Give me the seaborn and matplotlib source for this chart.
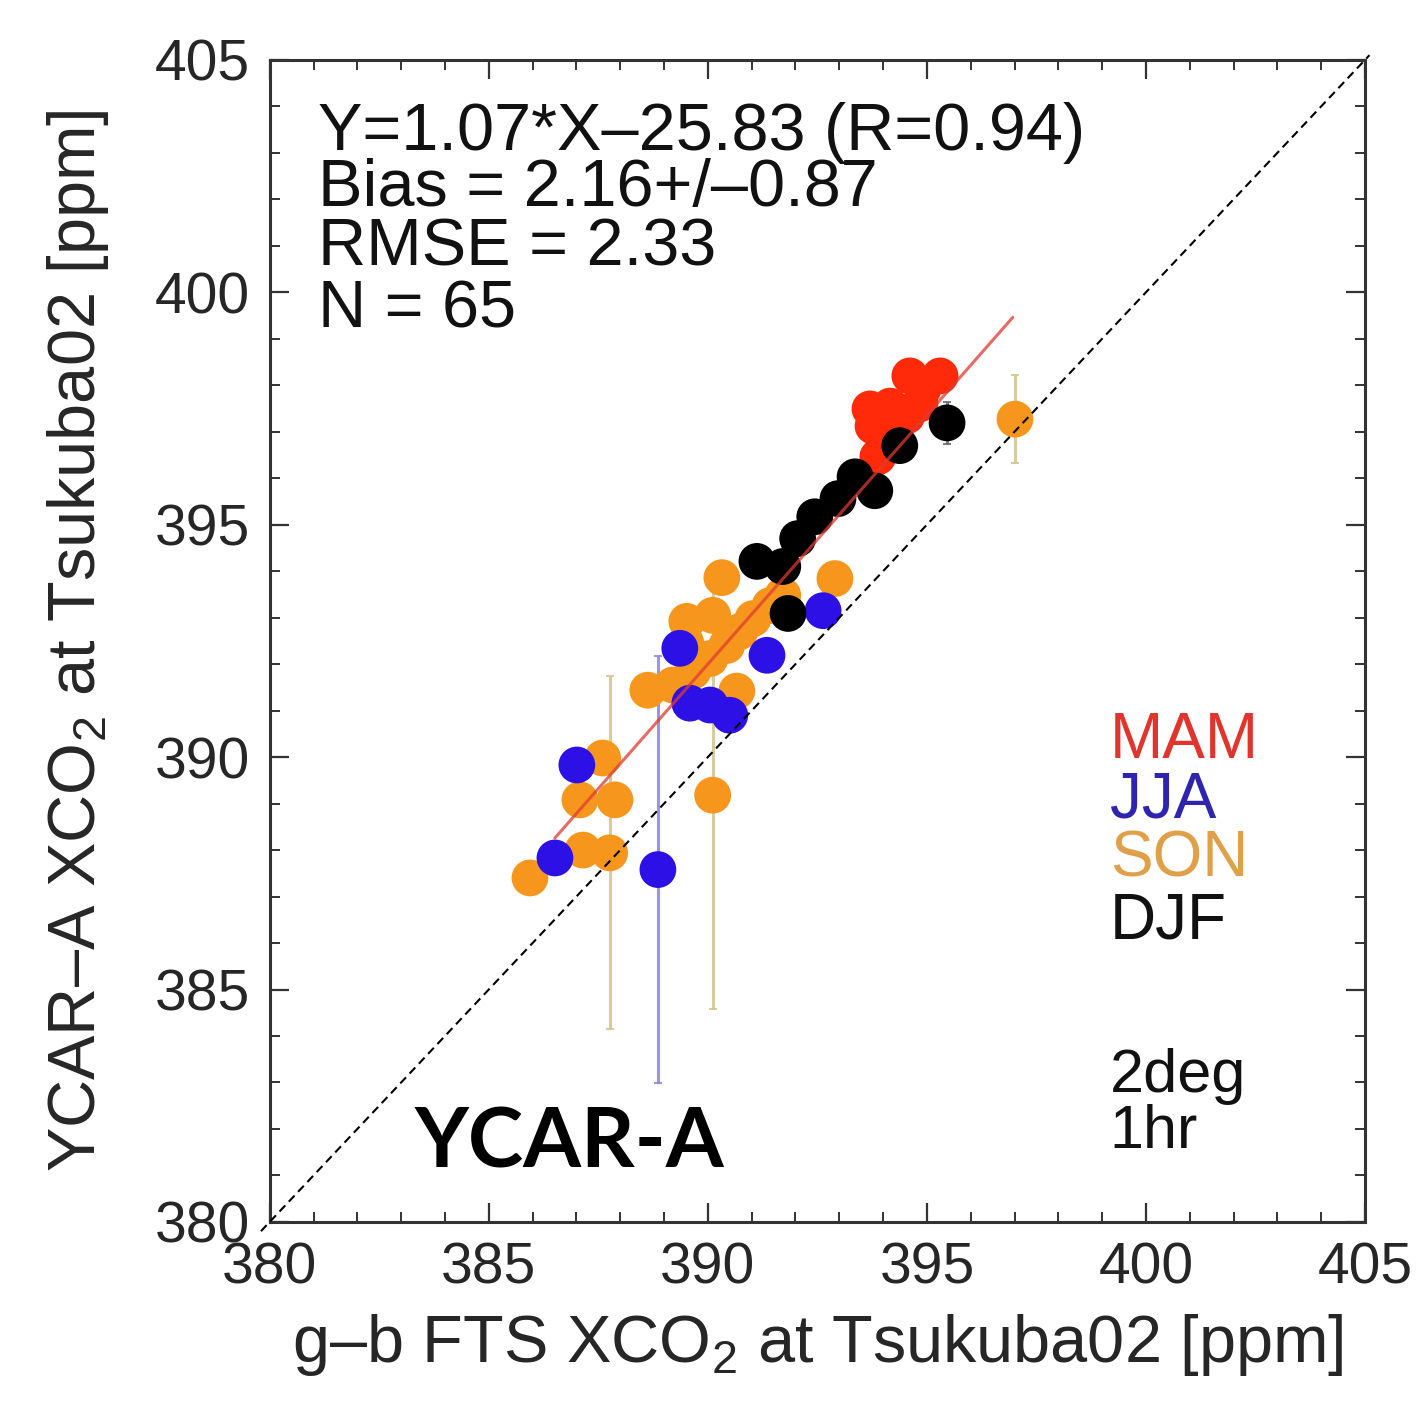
import numpy as np
import pandas as pd
import matplotlib
matplotlib.use("Agg")
import matplotlib.pyplot as plt
import seaborn as sns
from matplotlib.ticker import MultipleLocator

# ---------------- data ----------------
mam_x = [394.61, 395.30, 394.91, 393.70, 394.16, 394.54, 393.77, 394.84, 394.09, 393.88]
mam_y = [398.20, 398.20, 397.92, 397.49, 397.55, 397.34, 397.12, 397.60, 397.00, 396.46]
mam_err = [0.25] * 10

jja_x = [387.01, 386.51, 388.86, 389.36, 389.59, 390.05, 390.50, 391.35, 392.63]
jja_y = [389.83, 387.83, 387.58, 392.34, 391.16, 391.12, 390.90, 392.19, 393.15]
jja_err = [0.25, 0.25, 4.6, 0.25, 0.25, 0.25, 0.25, 0.25, 0.25]

son_x = [385.94, 387.15, 387.76, 387.08, 387.88, 387.60, 390.11, 388.63, 389.20,
         389.66, 390.05, 390.43, 390.73, 391.03, 391.42, 391.71, 389.52, 390.32,
         392.90, 390.66, 397.01, 390.11, 389.50]
son_y = [387.40, 388.00, 387.94, 389.08, 389.08, 389.98, 389.18, 391.44, 391.55,
         391.85, 392.12, 392.40, 392.70, 392.98, 393.26, 393.48, 392.92, 393.86,
         393.84, 391.42, 397.27, 393.05, 392.45]
son_err = [0.25, 0.25, 3.8, 0.25, 0.25, 0.25, 4.6, 0.25, 0.25,
           0.25, 0.25, 0.25, 0.25, 0.25, 0.25, 0.25, 0.25, 0.25,
           0.25, 0.25, 0.95, 0.25, 0.25]

djf_x = [395.46, 394.38, 393.36, 393.81, 392.97, 392.44, 392.05, 391.12, 391.71, 391.83]
djf_y = [397.19, 396.70, 396.03, 395.73, 395.56, 395.17, 394.70, 394.21, 394.10, 393.09]
djf_err = [0.45, 0.25, 0.25, 0.25, 0.25, 0.25, 0.25, 0.25, 0.25, 0.35]

seasons = ["MAM", "JJA", "SON", "DJF"]
season_colors = ["#ff2a0a", "#2c10e6", "#f7961c", "#000000"]
err_colors = ["#b08080", "#8a80e0", "#d2c48c", "#666677"]
label_colors = ["#e0342c", "#2e24b0", "#e0a04a", "#111111"]

fit_x = [386.51, 396.96]
fit_y = [388.26, 399.46]
one_to_one = [379.8, 405.1]

stats_lines = ["Y=1.07*X\u201325.83 (R=0.94)", "Bias = 2.16+/\u20130.87",
               "RMSE = 2.33", "N = 65"]
info_lines = ["2deg", "1hr"]
panel_label = "YCAR-A"
xlabel = "g\u2013b FTS XCO$_\\mathregular{2}$ at Tsukuba02 [ppm]"
ylabel = "YCAR\u2013A XCO$_\\mathregular{2}$ at Tsukuba02 [ppm]"
ticks = [380, 385, 390, 395, 400, 405]

# ---------------- build table ----------------
draw_order = ["MAM", "SON", "JJA", "DJF"]
data = {"MAM": (mam_x, mam_y, mam_err), "JJA": (jja_x, jja_y, jja_err),
        "SON": (son_x, son_y, son_err), "DJF": (djf_x, djf_y, djf_err)}
frames = []
for s in draw_order:
    x, y, e = data[s]
    frames.append(pd.DataFrame({"x": x, "y": y, "err": e, "season": s}))
df = pd.concat(frames, ignore_index=True)

# ---------------- style ----------------
sns.set_style("ticks")
plt.rcParams["font.family"] = ["Liberation Sans", "DejaVu Sans"]
plt.rcParams["mathtext.fontset"] = "custom"
plt.rcParams["mathtext.rm"] = "Liberation Sans"

fig = plt.figure(figsize=(14.27, 14.11), dpi=100)
ax = fig.add_axes([0.189, 0.134, 0.7676, 0.8236])

# error bars
for s in draw_order:
    sub = df[df.season == s]
    ci = seasons.index(s)
    ax.errorbar(sub.x, sub.y, yerr=sub.err, fmt="none", ecolor=err_colors[ci],
                elinewidth=2.2, capsize=3, capthick=1.5, alpha=0.85, zorder=1)

pal = dict(zip(seasons, season_colors))
sns.scatterplot(data=df, x="x", y="y", hue="season", palette=pal, s=700,
                linewidth=0, legend=False, ax=ax, zorder=2)

# regression line
ax.plot(fit_x, fit_y, color="#e03a30", lw=2.2, alpha=0.75, zorder=3)
# 1:1 line
ax.plot(one_to_one, one_to_one, color="black", lw=1.5, ls=(0, (4, 2.5)),
        clip_on=False, zorder=4)

ax.set_xlim(380, 405)
ax.set_ylim(380, 405)
ax.set_xticks(ticks)
ax.set_yticks(ticks)
ax.xaxis.set_minor_locator(MultipleLocator(1))
ax.yaxis.set_minor_locator(MultipleLocator(1))
ax.tick_params(which="both", direction="in", top=True, right=True,
               color="#333333")
ax.tick_params(which="major", length=14, width=1.6, labelsize=41, pad=14)
ax.tick_params(which="minor", length=7, width=1.4)
for sp in ax.spines.values():
    sp.set_color("#333333")
    sp.set_linewidth(2.2)

ax.set_xlabel(xlabel, fontsize=48, labelpad=12)
ax.set_ylabel(ylabel, fontsize=48, labelpad=32)

# annotations
stats_y = [0.9225, 0.874, 0.823, 0.770]
for t, yy in zip(stats_lines, stats_y):
    ax.text(0.044, yy, t, transform=ax.transAxes, fontsize=48,
            va="baseline", ha="left", color="#111111")

season_y = [0.399, 0.348, 0.297, 0.2435]
for s, c, yy in zip(seasons, label_colors, season_y):
    ax.text(0.767, yy, s, transform=ax.transAxes, fontsize=46,
            va="baseline", ha="left", color=c)

for t, yy in zip(info_lines, [0.112, 0.0637]):
    ax.text(0.767, yy, t, transform=ax.transAxes, fontsize=44,
            va="baseline", ha="left", color="#111111")

ax.text(0.132, 0.0465, panel_label, transform=ax.transAxes, fontsize=60,
        fontweight="bold", family=["Lato", "DejaVu Sans"], va="baseline",
        ha="left", color="black")

fig.savefig("out.png", dpi=100)
